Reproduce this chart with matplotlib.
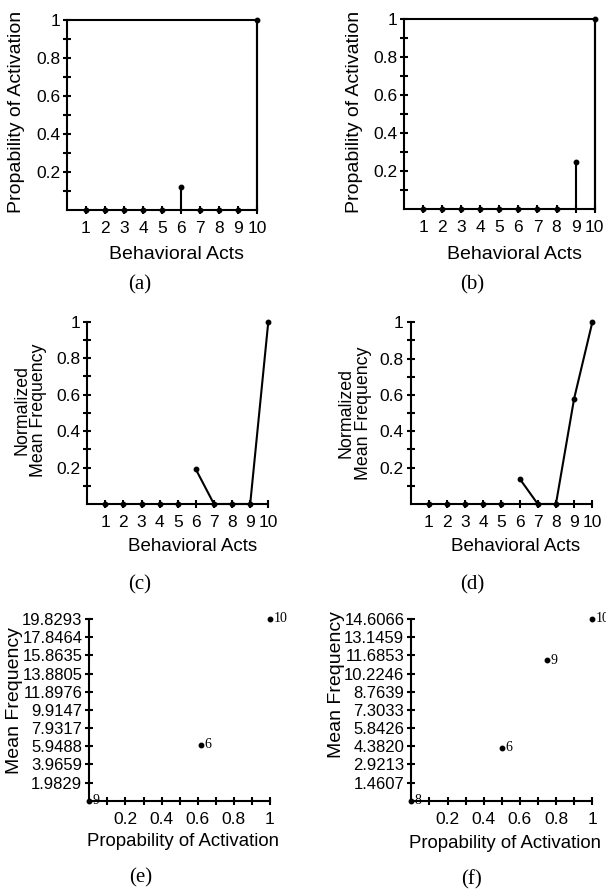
import matplotlib
matplotlib.use('Agg')
import matplotlib.pyplot as plt
import numpy as np

# ---------------- data ----------------
acts = [1, 2, 3, 4, 5, 6, 7, 8, 9, 10]
prob_a = [0, 0, 0, 0, 0, 0.12, 0, 0, 0, 1.0]
prob_b = [0, 0, 0, 0, 0, 0, 0, 0, 0.25, 1.0]
norm_c = [0, 0, 0, 0, 0, 0.19, 0, 0, 0, 1.0]
norm_d = [0, 0, 0, 0, 0, 0.14, 0, 0, 0.58, 1.0]

e_labels = ["9", "6", "10"]
e_prob = [0.0, 0.62, 1.0]
e_freq = [0.0, 6.1, 19.8293]
e_yticks = [1.9829, 3.9659, 5.9488, 7.9317, 9.9147, 11.8976, 13.8805, 15.8635, 17.8464, 19.8293]

f_labels = ["8", "6", "9", "10"]
f_prob = [0.0, 0.50, 0.75, 1.0]
f_freq = [0.0, 4.25, 11.3, 14.6066]
f_yticks = [1.4607, 2.9213, 4.3820, 5.8426, 7.3033, 8.7639, 10.2246, 11.6853, 13.1459, 14.6066]

prob_ticks = [0.1, 0.2, 0.3, 0.4, 0.5, 0.6, 0.7, 0.8, 0.9, 1.0]
prob_ticklabels = ["", "0.2", "", "0.4", "", "0.6", "", "0.8", "", "1"]

panel_letters = ["(a)", "(b)", "(c)", "(d)", "(e)", "(f)"]

# ---------------- style ----------------
SANS = ['Liberation Sans', 'DejaVu Sans']
SERIF = ['Liberation Serif', 'DejaVu Serif']
plt.rcParams['font.family'] = SANS
TICK_FS = 12.5
LAB_FS = 14
LW = 1.5

W, H = 606, 891
fig = plt.figure(figsize=(W / 100, H / 100), dpi=100)


def add_ax(l, r, t, b):
    return fig.add_axes([l / W, 1 - b / H, (r - l) / W, (b - t) / H])


def style(ax, box=False):
    for s in ['left', 'bottom']:
        ax.spines[s].set_linewidth(LW)
    for s in ['top', 'right']:
        ax.spines[s].set_visible(box)
        ax.spines[s].set_linewidth(LW)
    ax.tick_params(direction='inout', length=6, width=LW, labelsize=TICK_FS,
                   top=False, right=False)
    ax.tick_params(axis='x', pad=5)
    ax.tick_params(axis='y', pad=2)
    ax.set_facecolor('none')


def text_px(x, y, s, **kw):
    fig.text(x / W, 1 - y / H, s, ha='center', va='center', **kw)


def bar_panel(l, r, t, b, vals, stems, line_from=None, box=False):
    ax = add_ax(l, r, t, b)
    style(ax, box)
    ax.set_xlim(0, 10)
    ax.set_ylim(0, 1)
    ax.set_xticks(acts)
    ax.set_yticks(prob_ticks)
    ax.set_yticklabels(prob_ticklabels)
    if stems:
        ax.vlines(acts, 0, vals, colors='black', lw=LW, clip_on=False)
    if line_from is not None:
        i = acts.index(line_from)
        ax.plot(acts[i:], vals[i:], color='black', lw=LW, clip_on=False)
    ax.plot(acts, vals, 'o', color='black', ms=3.2, clip_on=False, zorder=5)
    return ax


# (a)
bar_panel(67, 257, 20, 210, prob_a, stems=True, box=True)
text_px(17, 112, "Propability of Activation", rotation=90, fontsize=LAB_FS)
text_px(176.7, 255, "Behavioral Acts", fontsize=LAB_FS)
text_px(140, 285, panel_letters[0], fontsize=15, family=SERIF)

# (b)
bar_panel(404, 594.7, 19.3, 209.3, prob_b, stems=True, box=True)
text_px(354.7, 112, "Propability of Activation", rotation=90, fontsize=LAB_FS)
text_px(514.7, 255, "Behavioral Acts", fontsize=LAB_FS)
text_px(472, 285, panel_letters[1], fontsize=15, family=SERIF)

# (c)
bar_panel(87.2, 268.3, 321.7, 504, norm_c, stems=False, line_from=6)
text_px(30, 410, "Normalized\nMean Frequency", rotation=90, fontsize=12.8,
        linespacing=1.0, multialignment='center')
text_px(192.5, 546.7, "Behavioral Acts", fontsize=13.5)
text_px(140, 585, panel_letters[2], fontsize=15, family=SERIF)

# (d)
bar_panel(410.5, 592.3, 322.3, 504, norm_d, stems=False, line_from=6)
text_px(354.7, 413, "Normalized\nMean Frequency", rotation=90, fontsize=12.8,
        linespacing=1.0, multialignment='center')
text_px(515.3, 546.7, "Behavioral Acts", fontsize=13.5)
text_px(472, 585, panel_letters[3], fontsize=15, family=SERIF)


def scatter_panel(l, r, t, b, px, py, labels, yticks):
    ax = add_ax(l, r, t, b)
    style(ax)
    ax.set_xlim(0, 1)
    ax.set_ylim(0, yticks[-1])
    ax.set_xticks(prob_ticks)
    ax.set_xticklabels(prob_ticklabels)
    ax.set_yticks(yticks)
    ax.set_yticklabels(["%.4f" % v for v in yticks], fontsize=12)
    ax.plot(px, py, 'o', color='black', ms=3.2, clip_on=False, zorder=5)
    for x, y, s in zip(px, py, labels):
        ax.annotate(s, (x, y), xytext=(2.5, 0), textcoords='offset points',
                    ha='left', va='center', fontsize=10, family=SERIF,
                    annotation_clip=False)
    return ax


# (e)
scatter_panel(89.3, 270, 619, 800.7, e_prob, e_freq, e_labels, e_yticks)
text_px(15, 700.7, "Mean Frequency", rotation=90, fontsize=LAB_FS)
text_px(182.7, 841.7, "Propability of Activation", fontsize=13.4)
text_px(140.8, 878, panel_letters[4], fontsize=15, family=SERIF)

# (f)
scatter_panel(411.3, 592.3, 619, 800.7, f_prob, f_freq, f_labels, f_yticks)
text_px(336.3, 684.2, "Mean Frequency", rotation=90, fontsize=LAB_FS)
text_px(504.7, 843.3, "Propability of Activation", fontsize=13.4)
text_px(472, 880, panel_letters[5], fontsize=15, family=SERIF)

fig.savefig('out.png', dpi=100, facecolor='white')
